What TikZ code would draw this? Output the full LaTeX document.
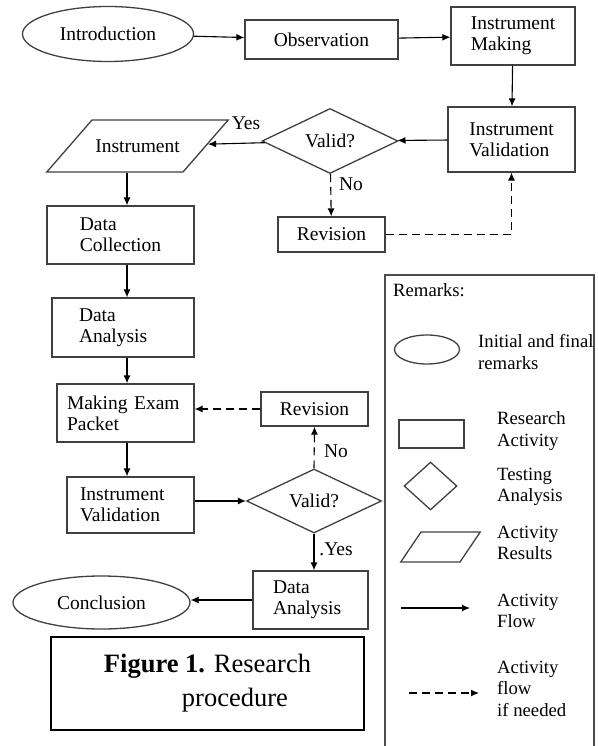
\documentclass[tikz,border=0pt]{standalone}
\usepackage{fontspec}
\setmainfont{Liberation Serif}
\usetikzlibrary{shapes.geometric,arrows.meta}

\newcommand{\flowfont}{\fontsize{19.5pt}{21pt}\selectfont}
\newcommand{\keyfont}{\fontsize{18.7pt}{21.5pt}\selectfont}
\newcommand{\capfont}{\fontsize{26.5pt}{34pt}\selectfont}

\tikzset{
	act/.style = {draw=black!75, line width=1.3pt, rectangle, align=left, inner sep=0pt, font=\flowfont},
	term/.style = {draw=black!75, line width=1.3pt, ellipse, inner sep=0pt, font=\flowfont},
	test/.style = {draw=black!75, line width=1.3pt, diamond, aspect=2, inner sep=0pt, font=\flowfont},
	io/.style = {draw=black!75, line width=1.3pt, trapezium, align=center, inner sep=0pt, font=\flowfont},
	flow/.style = {line width=1.1pt, -{Latex[length=8pt,width=7pt]}},
	optflow/.style = {flow, dash pattern=on 8pt off 5pt},
	lbl/.style = {font=\flowfont, inner sep=0pt},
	keytxt/.style = {font=\keyfont, inner sep=0pt, anchor=west, align=left}
}

\begin{document}
\begin{tikzpicture}[x=1pt, y=-1pt]
	\useasboundingbox (0,0) rectangle (597,746);
	
	% top row
	\node[term, minimum width=171pt, minimum height=55pt] (intro) at (108,34) {Introduction};
	\node[act, minimum width=153pt, minimum height=39pt] (obs) at (321.5,39.5) {Observation};
	\node[act, minimum width=124pt, minimum height=58pt] (imake) at (513,36) {Instrument\\Making};
	
	% first test
	\node[act, minimum width=127pt, minimum height=65pt] (ival) at (511.5,139.5) {Instrument\\Validation};
	\node[test, minimum width=136pt, minimum height=65pt] (valid1) at (330,141) {Valid?};
	\node[io, trapezium left angle=49, trapezium right angle=131, text width=91pt, text height=33pt, text depth=19pt] (instr) at (137.5,146) {Instrument};
	\node[act, minimum width=107pt, minimum height=35pt] (rev1) at (331.5,234.5) {Revision};
	
	% left column
	\node[act, minimum width=147pt, minimum height=58pt] (dcoll) at (120.5,235) {Data\\Collection};
	\node[act, minimum width=142pt, minimum height=59pt, text width=88pt] (dana1) at (123,327.5) {Data\\Analysis};
	\node[act, minimum width=137pt, minimum height=58pt, text width=117pt] (exam) at (125.5,413) {Making Exam\\Packet};
	\node[act, minimum width=127pt, minimum height=56pt, text width=101pt] (ival2) at (130.5,505) {Instrument\\Validation};
	
	% second test
	\node[act, minimum width=107pt, minimum height=34pt] (rev2) at (314.5,409) {Revision};
	\node[test, minimum width=135pt, minimum height=64pt] (valid2) at (314,501) {Valid?};
	\node[act, minimum width=115pt, minimum height=58pt, text width=75pt] (dana2) at (310.5,600) {Data\\Analysis};
	\node[term, minimum width=177pt, minimum height=53pt] (concl) at (101.5,602.5) {Conclusion};
	
	% answers
	\node[lbl] (yes1) at (246,123) {Yes};
	\node[lbl] (no1) at (351,184) {No};
	\node[lbl] (no2) at (336,451) {No};
	\node[lbl] (yes2) at (336,549) {.Yes};
	
	% flow
	\draw[flow] (intro) -- (obs);
	\draw[flow] (obs) -- (imake);
	\draw[flow] (imake) -- (ival);
	\draw[flow] (ival) -- (valid1);
	\draw[flow] (valid1) -- (instr);
	\draw[optflow] (valid1) -- (rev1);
	\draw[optflow] (rev1.east) -| (ival.south);
	
	\coordinate (col) at (127,0);
	\draw[flow] (col |- instr.south) -- (col |- dcoll.north);
	\draw[flow] (col |- dcoll.south) -- (col |- dana1.north);
	\draw[flow] (col |- dana1.south) -- (col |- exam.north);
	\draw[flow] (col |- exam.south) -- (col |- ival2.north);
	
	\draw[flow] (valid2.west -| ival2.east) -- (valid2.west);
	\draw[optflow] (valid2.north) -- (rev2.south);
	\draw[optflow] (rev2.west) -- (rev2.west -| exam.east);
	\draw[flow] (valid2.south) -- (valid2.south |- dana2.north);
	\draw[flow] (dana2.west) -- (dana2.west -| concl.east);
	
	% caption
	\node[draw, line width=2.2pt, minimum width=313pt, minimum height=93pt, align=left, font=\capfont, inner sep=0pt] (caption) at (207.5,683.5) {\textbf{Figure 1.} Research\\\hspace*{78pt}procedure};
	
	% remarks
	\draw[black!70, line width=1.8pt] (385,746) -- (385,275) -- (594,275) -- (594,746);
	\node[keytxt] (remarks) at (393,290) {Remarks:};
	
	\node[term, minimum width=65pt, minimum height=29pt] (keyterm) at (427,349.5) {};
	\node[keytxt] (keytermtxt) at (478,352) {Initial and final\\remarks};
	
	\node[act, minimum width=65pt, minimum height=28pt] (keyact) at (431.5,434) {};
	\node[keytxt] (keyacttxt) at (497,431) {Research\\Activity};
	
	\node[test, minimum width=53pt, minimum height=48pt] (keytest) at (430.5,486) {};
	\node[keytxt] (keytesttxt) at (497,487) {Testing\\Analysis};
	
	\node[io, trapezium left angle=56, trapezium right angle=124, text width=39pt, text height=15pt, text depth=15pt] (keyio) at (440.5,547) {};
	\node[keytxt] (keyiotxt) at (497,543) {Activity\\Results};
	
	\coordinate (keyflowa) at (401,608);
	\coordinate (keyflowb) at (470,608);
	\draw[flow] (keyflowa) -- (keyflowb);
	\node[keytxt] (keyflowtxt) at (497,611) {Activity\\Flow};
	
	\coordinate (keyopta) at (409,693);
	\coordinate (keyoptb) at (479,693);
	\draw[optflow] (keyopta) -- (keyoptb);
	\node[keytxt] (keyopttxt) at (497,688.5) {Activity\\flow\\if needed};
	
\end{tikzpicture}
\end{document}
